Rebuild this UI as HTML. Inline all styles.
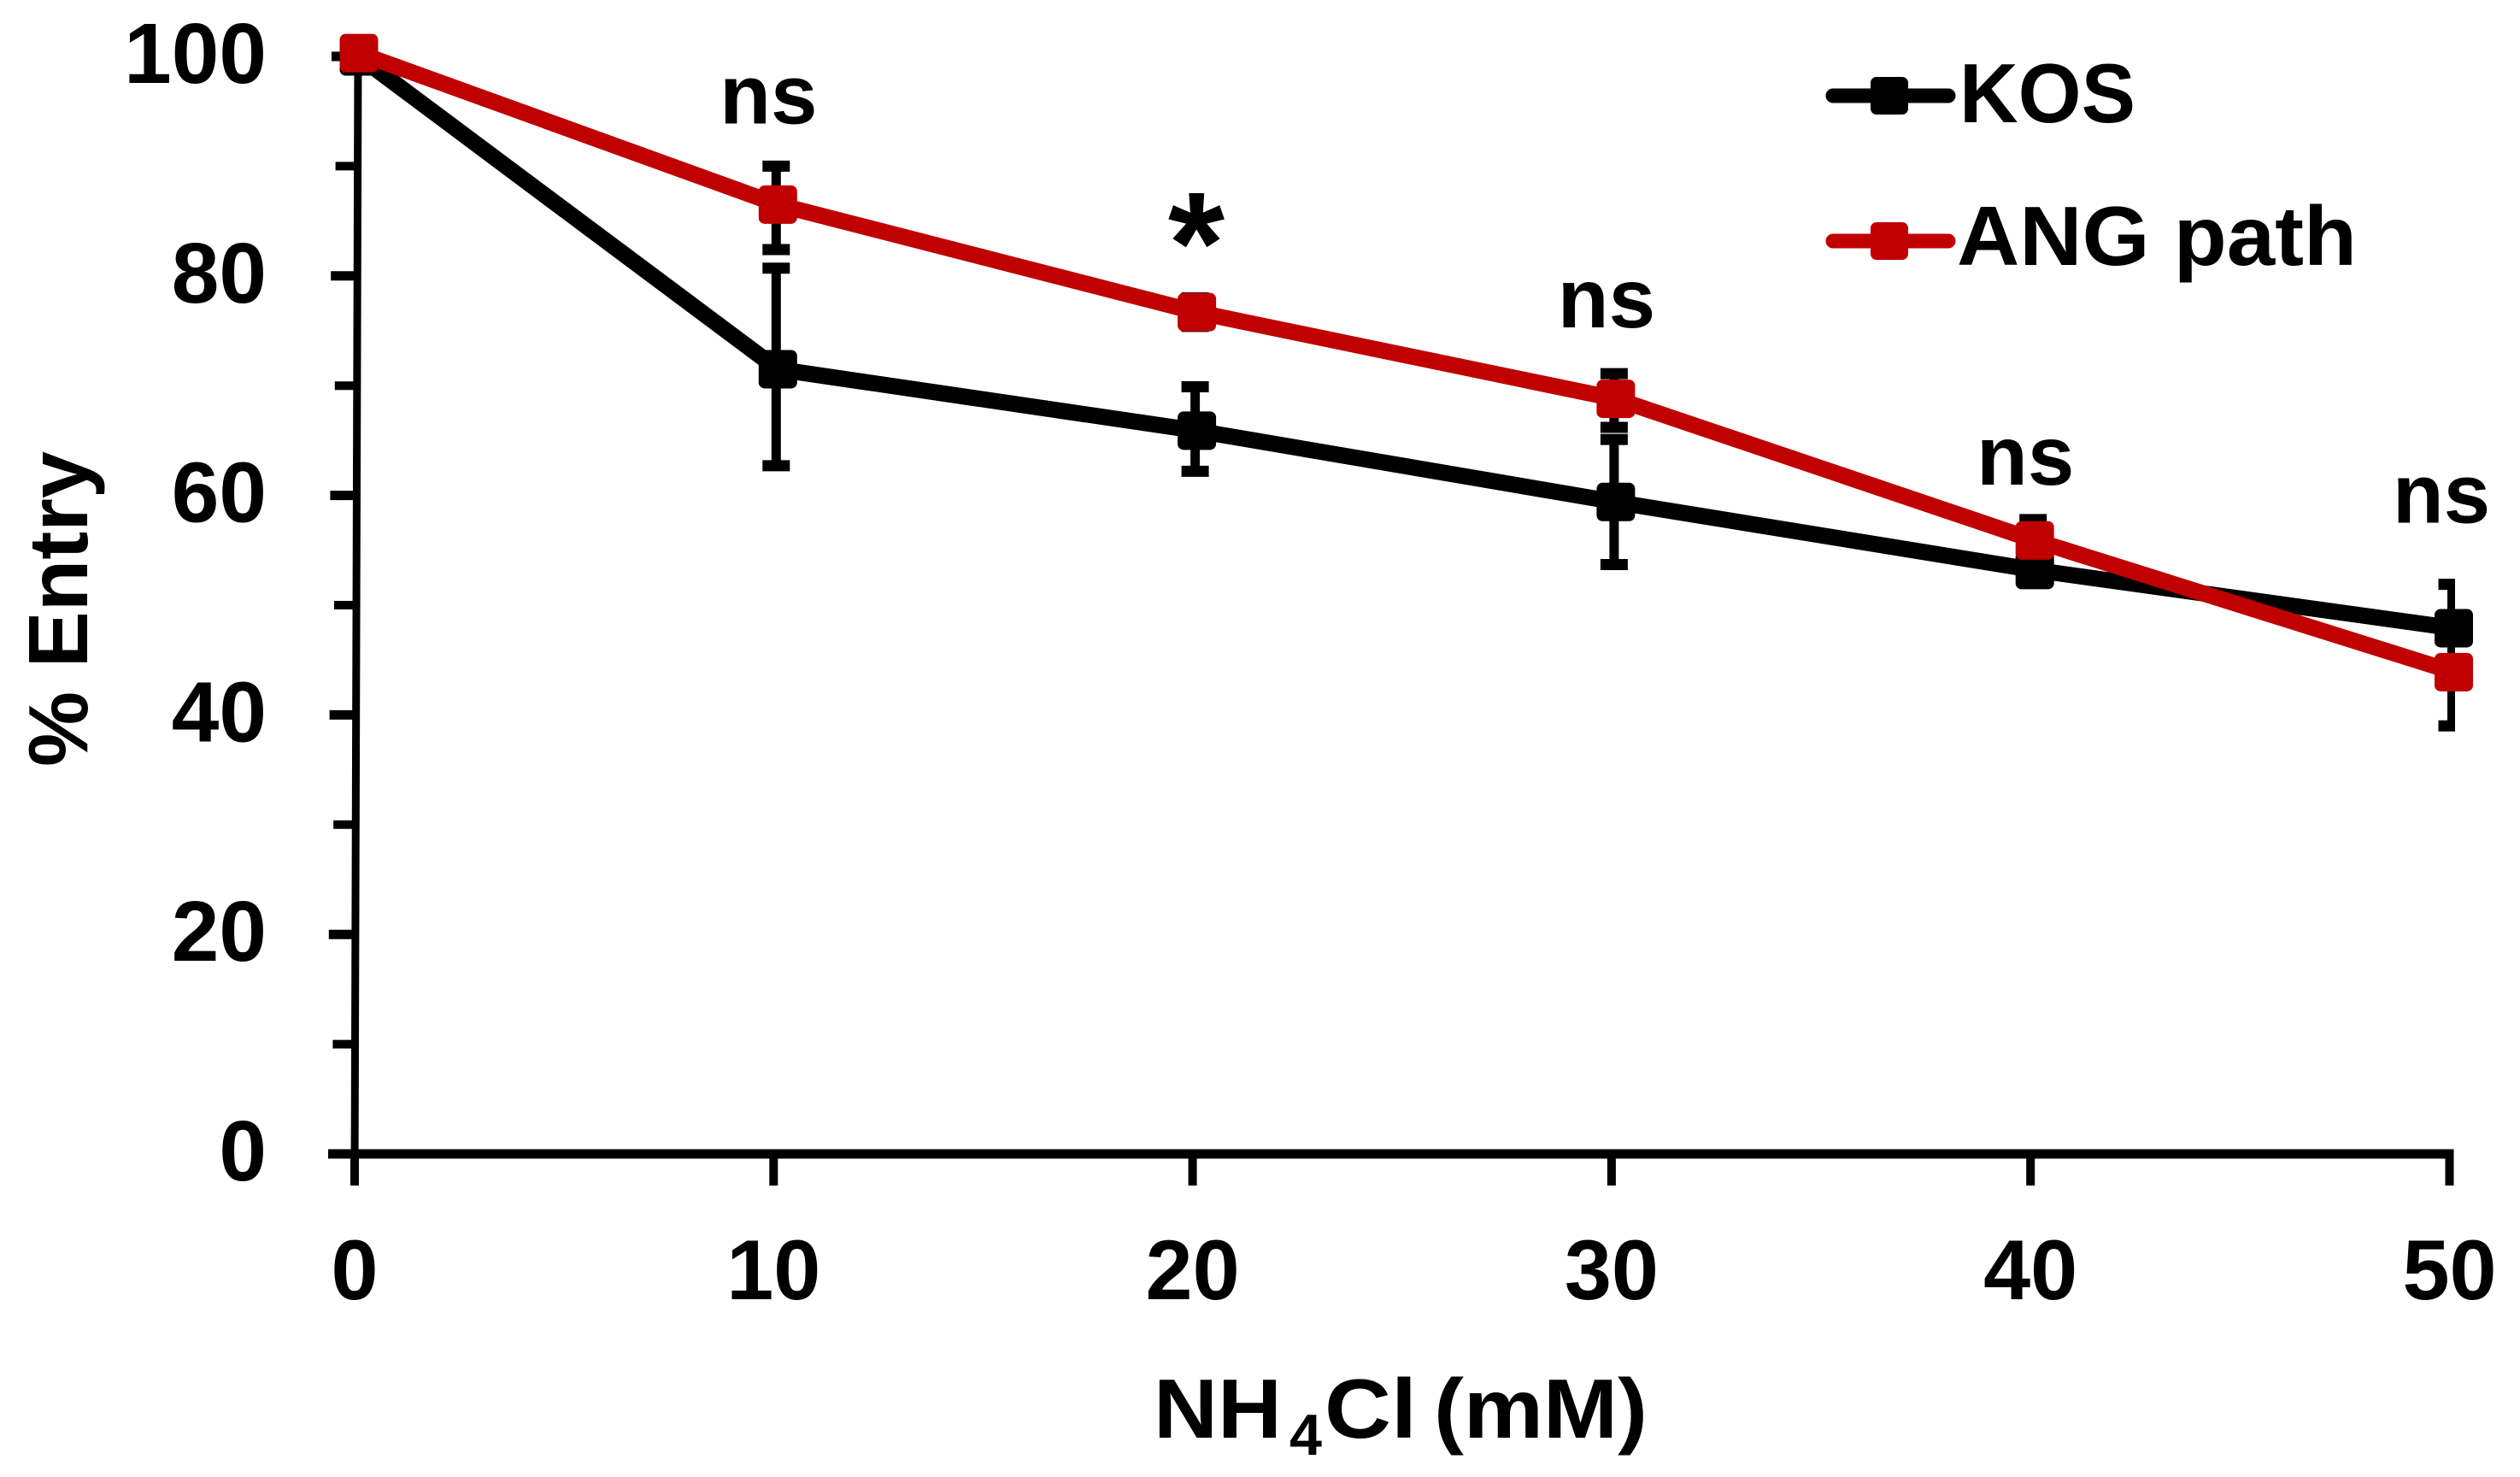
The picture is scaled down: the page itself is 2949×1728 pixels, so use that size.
<!DOCTYPE html>
<html lang="en">
<head>
<meta charset="utf-8">
<title>% Entry vs NH4Cl</title>
<style>
html,body{margin:0;padding:0;background:#fff;}
svg{display:block;}
text{font-family:"Liberation Sans",sans-serif;font-weight:700;fill:#000;}
</style>
</head>
<body>
<svg id="chart" xmlns="http://www.w3.org/2000/svg" width="2949" height="1728" viewBox="0 0 2949 1728">
  <defs><clipPath id="err-clip"><rect x="0" y="0" width="2873" height="1728"/></clipPath></defs>
  <rect width="2949" height="1728" fill="#fff"/>
  <g id="axes"></g>
  <g id="errs" clip-path="url(#err-clip)"></g>
  <g id="series"></g>
  <g id="sig"></g>
  <text transform="translate(102,897) rotate(-90)" font-size="98" textLength="369" lengthAdjust="spacingAndGlyphs">% Entry</text>
  <g>
    <text x="1350" y="1682" font-size="98" textLength="150" lengthAdjust="spacingAndGlyphs">NH</text>
    <text x="1509" y="1702" font-size="68" textLength="38" lengthAdjust="spacingAndGlyphs">4</text>
    <text x="1550" y="1682" font-size="98" textLength="108" lengthAdjust="spacingAndGlyphs">Cl</text>
    <text x="1678" y="1682" font-size="98" textLength="250" lengthAdjust="spacingAndGlyphs">(mM)</text>
  </g>
  <g>
    <g>
      <line x1="2145" y1="112" x2="2280" y2="112" stroke="#000" stroke-width="17" stroke-linecap="round"/>
      <rect x="2189" y="90" width="44" height="44" rx="7" fill="#000"/>
      <text x="2293" y="143" font-size="98" textLength="206" lengthAdjust="spacingAndGlyphs">KOS</text>
    </g>
    <g>
      <line x1="2145" y1="282" x2="2280" y2="282" stroke="#c00000" stroke-width="17" stroke-linecap="round"/>
      <rect x="2189" y="260" width="44" height="44" rx="7" fill="#c00000"/>
      <text x="2290" y="310" font-size="98" textLength="468" lengthAdjust="spacingAndGlyphs">ANG path</text>
    </g>
  </g>
</svg>
<script>
const concentrations = [0, 10, 20, 30, 40, 50];
const kosValues = [100, 71.5, 65.9, 59.4, 53.2, 47.9];
const angValues = [100.3, 86.5, 76.7, 68.8, 55.9, 43.9];
const kosHigh = [100, 80.7, 69.9, 65.1, 54.2, 51.9];
const kosLow = [100, 62.7, 62.2, 53.7, 52.2, 44.5];
const angHigh = [100.3, 90.0, 78.0, 71.1, 57.8, 47.0];
const angLow = [100.3, 82.4, 75.4, 66.2, 54.0, 39.0];
const yTickLabels = [0, 20, 40, 60, 80, 100];
const yMinorTicks = [10, 30, 50, 70, 90];
const xTickLabels = [0, 10, 20, 30, 40, 50];
const sigLabels = ['', 'ns', '*', 'ns', 'ns', 'ns'];
const sigHeights = [0, 93.9, 0, 75.3, 61.0, 57.5];

const NS = 'http://www.w3.org/2000/svg';
function xScale(v) { return 415 + v * 49.03; }
function yScale(v) { return 1350 - v * 12.84; }
function markX(v) { return xScale(v) + 5; }
function errX(v) { return xScale(v) + 3; }
function axisX(v) { return 415 + v * 0.04; }
function make(tag, attrs, parent) {
  const el = document.createElementNS(NS, tag);
  for (const k in attrs) el.setAttribute(k, attrs[k]);
  parent.appendChild(el);
  return el;
}
const axes = document.getElementById('axes');
const errs = document.getElementById('errs');
const seriesG = document.getElementById('series');
const sig = document.getElementById('sig');

const yAxis = make('line', {x1: axisX(100), y1: yScale(100), x2: axisX(0), y2: 1387, stroke: '#000', 'stroke-width': 9}, axes);


const xAxis = make('line', {x1: 385, y1: yScale(0), x2: xScale(50) + 5, y2: yScale(0), stroke: '#000', 'stroke-width': 11}, axes);



yTickLabels.forEach(function (v) {
  const t = make('line', {x1: axisX(v) - 31, y1: yScale(v), x2: axisX(v), y2: yScale(v), stroke: '#000', 'stroke-width': 11}, axes);
  
  
  const l = make('text', {x: 312, y: yScale(v) + 31, 'font-size': 100, 'text-anchor': 'end'}, axes);
  l.textContent = String(v);
  
  
});
yMinorTicks.forEach(function (v) {
  const t = make('line', {x1: axisX(v) - 26, y1: yScale(v), x2: axisX(v), y2: yScale(v), stroke: '#000', 'stroke-width': 10}, axes);
  
  
});
xTickLabels.forEach(function (v) {
  const t = make('line', {x1: xScale(v), y1: yScale(0), x2: xScale(v), y2: 1387, stroke: '#000', 'stroke-width': 10}, axes);
  
  
  const l = make('text', {x: xScale(v), y: 1520, 'font-size': 99, 'text-anchor': 'middle'}, axes);
  l.textContent = String(v);
  
  
});

function drawErrors(name, hi, lo) {
  concentrations.forEach(function (c, i) {
    if (i === 0) return;
    const g = make('g', {stroke: '#000'}, errs);
    
    
    const x = errX(c);
    make('line', {x1: x, y1: yScale(hi[i]), x2: x, y2: yScale(lo[i]), 'stroke-width': 11}, g);
    make('line', {x1: x - 16, y1: yScale(hi[i]), x2: x + 16, y2: yScale(hi[i]), 'stroke-width': 13}, g);
    make('line', {x1: x - 16, y1: yScale(lo[i]), x2: x + 16, y2: yScale(lo[i]), 'stroke-width': 13}, g);
  });
}
function drawSeries(name, values, color) {
  const pts = concentrations.map(function (c, i) { return markX(c) + ',' + yScale(values[i]); }).join(' ');
  const line = make('polyline', {points: pts, fill: 'none', stroke: color, 'stroke-width': 19, 'stroke-linejoin': 'round'}, seriesG);
  
  
  concentrations.forEach(function (c, i) {
    const m = make('rect', {x: markX(c) - 22.5, y: yScale(values[i]) - 22.5, width: 45, height: 45, rx: 7, fill: color}, seriesG);
    
    
  });
}
drawErrors('kos', kosHigh, kosLow);
drawErrors('ang-path', angHigh, angLow);
drawSeries('kos', kosValues, '#000');
drawSeries('ang-path', angValues, '#c00000');

sigLabels.forEach(function (s, i) {
  if (s !== 'ns') return;
  const c = concentrations[i];
  const t = make('text', {x: Math.min(markX(c) - 11, 2857), y: yScale(sigHeights[i]), 'font-size': 98, 'text-anchor': 'middle'}, sig);
  t.textContent = s;
  
  
});
const star = make('text', {x: 1400, y: 343, 'font-size': 170, 'text-anchor': 'middle'}, sig);
star.textContent = sigLabels[2];


</script>
</body>
</html>
